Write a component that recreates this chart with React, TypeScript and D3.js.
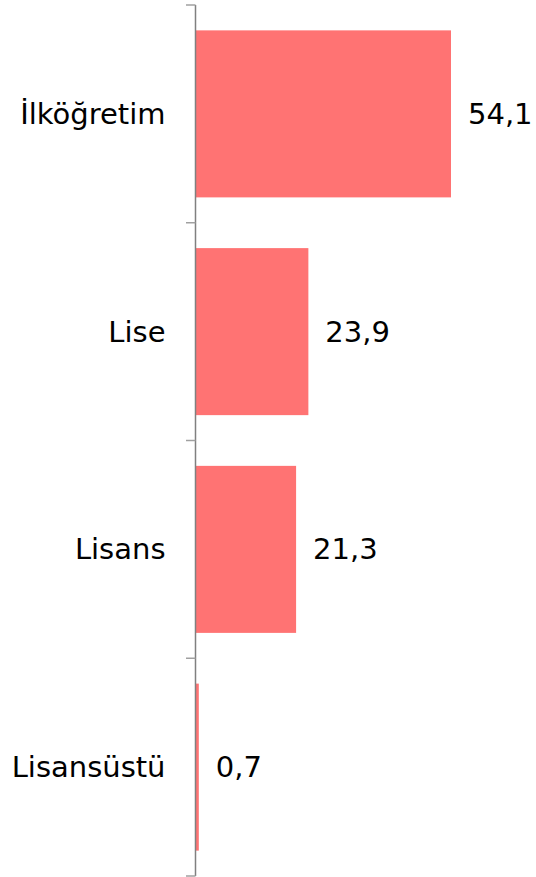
import React from "react";
import * as d3 from "d3";

const categories = ["İlköğretim", "Lise", "Lisans", "Lisansüstü"];
const values = [54.1, 23.9, 21.3, 0.7];
const valueLabels = ["54,1", "23,9", "21,3", "0,7"];

export default function App() {
  const W = 536, H = 877;
  const y = d3.scaleBand<string>().domain(categories).range([5, 876]).paddingInner(0.233).paddingOuter(0.1165);
  const x = d3.scaleLinear().domain([0, 54.1]).range([195.5, 451]);
  const step = y.step();
  const ticks = d3.range(categories.length + 1).map((i) => 5 + i * step);
  const font = "Verdana, 'DejaVu Sans', sans-serif";
  return (
    <svg width={W} height={H} style={{ position: "absolute", left: 0, top: 0 }}>
      {categories.map((c, i) => (
        <rect key={c} x={x(0)} y={y(c)!} width={x(values[i]) - x(0)} height={y.bandwidth()} fill="#ff7373" />
      ))}
      <line x1={195.5} x2={195.5} y1={5} y2={876} stroke="#808080" strokeWidth={1.5} />
      {ticks.map((t, i) => (
        <line key={i} x1={186} x2={195.5} y1={t} y2={t} stroke="#a0a0a0" strokeWidth={1.5} />
      ))}
      {categories.map((c, i) => (
        <text key={c} x={165.5} y={y(c)! + y.bandwidth() / 2} textAnchor="end" dominantBaseline="central" fontFamily={font} fontSize={29} fill="#000">
          {c}
        </text>
      ))}
      {categories.map((c, i) => (
        <text key={c + "v"} x={x(values[i]) + 17} y={y(c)! + y.bandwidth() / 2} dominantBaseline="central" fontFamily={font} fontSize={29} fill="#000">
          {valueLabels[i]}
        </text>
      ))}
    </svg>
  );
}
